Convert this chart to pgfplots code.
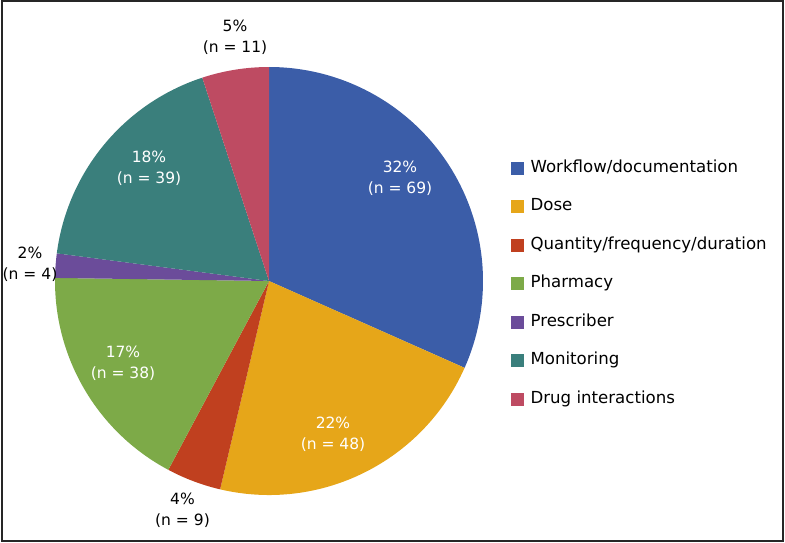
\documentclass[border=0pt]{standalone}
\usepackage{pgfplots}
\pgfplotsset{compat=1.18}
\usepackage{pgfplotstable}
\usepackage{fontspec}
\setmainfont{DejaVu Sans}
\definecolor{cWork}{HTML}{3B5DA8}
\definecolor{cDose}{HTML}{E6A619}
\definecolor{cQty}{HTML}{C0401F}
\definecolor{cPharm}{HTML}{7DAA48}
\definecolor{cPresc}{HTML}{6B4C9A}
\definecolor{cMon}{HTML}{3A7F7C}
\definecolor{cDrug}{HTML}{BE4B62}
\pgfplotstableread{
label n color
{Workflow/documentation} 69 cWork
{Dose} 48 cDose
{Quantity/frequency/duration} 9 cQty
{Pharmacy} 38 cPharm
{Prescriber} 4 cPresc
{Monitoring} 39 cMon
{Drug interactions} 11 cDrug
}\piedata
\begin{document}
\begin{tikzpicture}[x=1pt,y=1pt]
\useasboundingbox (0,0) rectangle (785,542);
\draw[line width=2pt, black!85] (1.5,1.5) rectangle (783,540.5);
\begin{axis}[
  at={(269pt,261pt)}, anchor=center,
  hide axis, scale only axis, width=428pt, height=428pt,
  xmin=-1, xmax=1, ymin=-1, ymax=1, clip=false,
  legend cell align=left,
  legend image code/.code={\fill[#1] (0pt,-6pt) rectangle (12pt,6pt);},
  legend style={draw=none, fill=none, at={(axis cs:1.1168,0.5748)}, anchor=north west,
    font=\fontsize{16.6}{19}\selectfont, row sep=22.5pt, column sep=7pt,
    nodes={inner sep=0pt, text height=12pt, text depth=4pt}},
]
\pgfplotstablegetrowsof{\piedata}
\pgfmathtruncatemacro\lastrow{\pgfplotsretval-1}
\def\total{0}
\pgfplotsforeachungrouped \i in {0,...,\lastrow} {%
  \pgfplotstablegetelem{\i}{n}\of\piedata
  \pgfmathsetmacro\total{\total+\pgfplotsretval}%
}
\def\cum{0}
\pgfplotsforeachungrouped \i in {0,...,\lastrow} {%
  \pgfplotstablegetelem{\i}{n}\of\piedata \let\v\pgfplotsretval
  \pgfplotstablegetelem{\i}{color}\of\piedata \let\c\pgfplotsretval
  \pgfmathsetmacro\a{90-360*(\cum/\total)}%
  \pgfmathsetmacro\cum{\cum+\v}%
  \pgfmathsetmacro\b{90-360*(\cum/\total)}%
  \edef\temp{\noexpand\fill[\c] (axis cs:0,0) -- (axis cs:{cos(\a)},{sin(\a)}) arc[start angle=\a, end angle=\b, radius=214pt] -- cycle;}%
  \temp
  \edef\temp{\noexpand\addlegendimage{\c}}\temp
  \pgfplotstablegetelem{\i}{label}\of\piedata
  \edef\temp{\noexpand\addlegendentry{\pgfplotsretval}}\temp
}
\end{axis}
\begin{scope}[every node/.style={align=center, font=\fontsize{15.5}{21}\selectfont}]
\node[white] at (400,363.5) {32\%\\(n = 69)};
\node[white] at (333,107.5) {22\%\\(n = 48)};
\node[black] at (182.5,32) {4\%\\(n = 9)};
\node[white] at (123,178.5) {17\%\\(n = 38)};
\node[black] at (30,278) {2\%\\(n = 4)};
\node[white] at (149,373.5) {18\%\\(n = 39)};
\node[black] at (235,505) {5\%\\(n = 11)};
\end{scope}
\end{tikzpicture}
\end{document}
